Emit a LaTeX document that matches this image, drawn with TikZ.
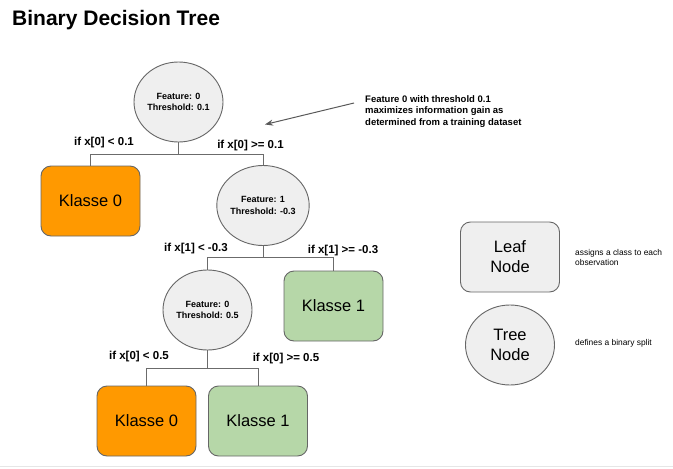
\documentclass[tikz,border=0pt]{standalone}
\usepackage{fontspec}
\setmainfont{Liberation Sans}
\usetikzlibrary{shapes.geometric,arrows.meta}
\definecolor{nodegray}{HTML}{EFEFEF}
\definecolor{bordergray}{HTML}{666666}
\definecolor{linegray}{HTML}{6B6B6B}
\definecolor{orangeleaf}{HTML}{FF9900}
\definecolor{greenleaf}{HTML}{B6D7A8}
\definecolor{arrowgray}{HTML}{595959}
\definecolor{rulegray}{HTML}{E6E6E6}
\tikzset{
  treenode/.style={ellipse, draw=bordergray, line width=0.9pt, fill=nodegray,
    minimum width=89pt, minimum height=80pt, inner sep=0pt, align=center,
    font=\bfseries\fontsize{9}{11.2}\selectfont},
  leafnode/.style={rectangle, rounded corners=10pt, draw=bordergray, line width=0.9pt,
    minimum width=99pt, minimum height=70pt, inner sep=0pt, align=center,
    font=\fontsize{16.5}{20}\selectfont},
  bigtree/.style={treenode, font=\fontsize{16.5}{19.5}\selectfont},
  branchlbl/.style={inner sep=0pt, font=\bfseries\fontsize{11.5}{13}\selectfont},
  conn/.style={draw=linegray, line width=0.9pt},
  note/.style={inner sep=0pt, align=left, font=\fontsize{8.4}{9.5}\selectfont},
}
\begin{document}
\begin{tikzpicture}[x=1pt, y=-1pt]
\useasboundingbox (0,0) rectangle (673,469);

\node[anchor=base west, inner sep=0pt, font=\bfseries\fontsize{21}{25}\selectfont] (title) at (12,25) {Binary Decision Tree};

% tree nodes
\node[treenode] (r1) at (178.5,102) {Feature: 0\\Threshold: 0.1};
\node[leafnode, fill=orangeleaf] (k0a) at (90.5,201) {Klasse 0};
\node[treenode] (r2) at (263,205.5) {Feature: 1\\Threshold: -0.3};
\node[treenode] (r3) at (207.5,310) {Feature: 0\\Threshold: 0.5};
\node[leafnode, fill=greenleaf] (k1a) at (333.5,306) {Klasse 1};
\node[leafnode, fill=orangeleaf] (k0b) at (146.5,421) {Klasse 0};
\node[leafnode, fill=greenleaf] (k1b) at (258,421) {Klasse 1};

% junctions
\coordinate (j1) at (178.5,154);
\coordinate (j2) at (263,257.5);
\coordinate (j3) at (207.5,368);

\draw[conn] (r1.south) -- (j1) -| (k0a.north);
\draw[conn] (j1) -| (r2.north);
\draw[conn] (r2.south) -- (j2) -| (r3.north);
\draw[conn] (j2) -| (k1a.north);
\draw[conn] (r3.south) -- (j3) -| (k0b.north);
\draw[conn] (j3) -| (k1b.north);

% branch labels
\node[branchlbl] (l1) at (104,143) {if x[0] < 0.1};
\node[branchlbl] (l2) at (250.5,146) {if x[0] >= 0.1};
\node[branchlbl] (l3) at (196,249) {if x[1] < -0.3};
\node[branchlbl] (l4) at (343,251) {if x[1] >= -0.3};
\node[branchlbl] (l5) at (139,357) {if x[0] < 0.5};
\node[branchlbl] (l6) at (286,359) {if x[0] >= 0.5};

% annotation
\node[inner sep=0pt, anchor=west, align=left, font=\bfseries\fontsize{9.5}{11.3}\selectfont] (ann) at (365,111.5)
  {Feature 0 with threshold 0.1\\maximizes information gain as\\determined from a training dataset};
\coordinate (a1) at (354,103);
\coordinate (a2) at (265,124.5);
\draw[draw=arrowgray, line width=1pt, -{Stealth[length=8pt,width=6pt]}] (a1) -- (a2);

% legend
\node[leafnode, fill=nodegray] (leg1) at (510,257) {Leaf\\Node};
\node[bigtree] (leg2) at (510,345) {Tree\\Node};
\node[note, anchor=west] (n1) at (575,257.5) {assigns a class to each\\observation};
\node[note, anchor=west] (n2) at (575,343) {defines a binary split};

% bottom rule
\draw[draw=rulegray, line width=1pt] (0,466.5) -- (673,466.5);
\end{tikzpicture}
\end{document}
